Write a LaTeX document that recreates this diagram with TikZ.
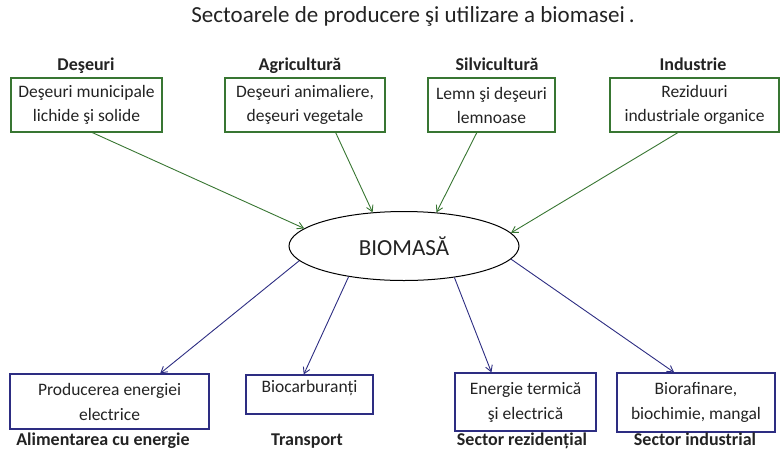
\documentclass[tikz,border=0pt]{standalone}
\usepackage{fontspec}
\setmainfont{Carlito}
\usetikzlibrary{arrows.meta,shapes.geometric}
\definecolor{srcgreen}{RGB}{56,118,50}
\definecolor{usenavy}{RGB}{45,45,130}
\definecolor{txtgray}{RGB}{35,35,35}
\tikzset{
    srcbox/.style={draw=srcgreen, line width=1.2pt, align=center, inner sep=0pt,
        minimum height=54pt, text=txtgray, font=\fontsize{17.5}{24}\selectfont},
    endbox/.style={draw=usenavy, line width=1.2pt, align=center, inner sep=0pt,
        text=txtgray, font=\fontsize{17.5}{25}\selectfont},
    head/.style={anchor=base, text=txtgray, font=\fontsize{18}{20}\selectfont\bfseries},
    feed/.style={draw=srcgreen, line width=0.9pt, -{Straight Barb[length=6pt,width=7pt]}},
    give/.style={draw=usenavy, line width=0.9pt, -{Straight Barb[length=6pt,width=7pt]}},
}

\begin{document}
\begin{tikzpicture}[x=1pt, y=-1pt]
    \useasboundingbox (0,0) rectangle (781,448);
    % title
    \node[anchor=base, text=txtgray, font=\fontsize{23}{26}\selectfont] (title) at (413,22)
        {Sectoarele de producere şi utilizare a biomasei\,.};

    % sources
    \node[head] (h1) at (86,70) {Deşeuri};
    \node[head] (h2) at (300,70) {Agricultură};
    \node[head] (h3) at (497,70) {Silvicultură};
    \node[head] (h4) at (693,70) {Industrie};
    \node[srcbox, minimum width=151pt] (t1) at (86.5,105) {Deşeuri municipale\\lichide şi solide};
    \node[srcbox, minimum width=160pt] (t2) at (305,105) {Deşeuri animaliere,\\deşeuri vegetale};
    \node[srcbox, minimum width=127pt] (t3) at (491.5,105) {Lemn şi deşeuri\\lemnoase};
    \node[srcbox, minimum width=169pt] (t4) at (694.5,105) {Reziduuri\\industriale organice};

    % centre
    \node[draw, ellipse, line width=1pt, minimum width=230pt, minimum height=69pt,
        text=txtgray, font=\fontsize{23}{26}\selectfont] (bio) at (404,246) {BIOMASĂ};

    % uses
    \node[endbox, minimum width=199pt, minimum height=55pt] (b1) at (109.5,401.5) {Producerea energiei\\electrice};
    \node[endbox, minimum width=127pt, minimum height=39pt, text depth=17pt] (b2) at (309.5,394.5) {Biocarburanți};
    \node[endbox, minimum width=141pt, minimum height=58pt] (b3) at (525.5,402) {Energie termică\\şi electrică};
    \node[endbox, minimum width=158pt, minimum height=59pt] (b4) at (696,402.5) {Biorafinare,\\biochimie, mangal};
    \node[head] (f1) at (103,445) {Alimentarea cu energie};
    \node[head] (f2) at (307,445) {Transport};
    \node[head] (f3) at (522,445) {Sector rezidențial};
    \node[head] (f4) at (695,445) {Sector industrial};

    % arrows
    \draw[feed] (t1.-78.5) -- (bio.170.4);
    \draw[feed] (t2.-42) -- (bio.133.5);
    \draw[feed] (t3.-118.2) -- (bio.46.5);
    \draw[feed] (t4.-121.4) -- (bio.7.4);
    \draw[give] (bio.-172.7) -- (b1.29.4);
    \draw[give] (bio.-151.9) -- (b2.106.8);
    \draw[give] (bio.-32.3) -- (b3.139.8);
    \draw[give] (bio.-7.7) -- (b4.126.4);
\end{tikzpicture}
\end{document}
